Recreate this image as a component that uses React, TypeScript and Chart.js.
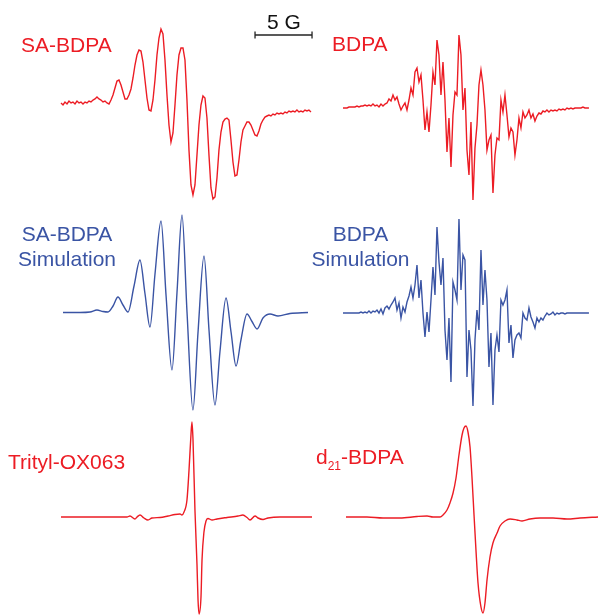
import React, { useEffect, useRef } from 'react';
import { Chart, registerables } from 'chart.js';

Chart.register(...registerables);

// ---------------- data ----------------
// Sampled spectra: amplitude (a.u.) every SWEEP_STEP_G gauss from the sweep start
const SWEEP_STEP_G = 0.1754;
const SCALE_BAR_G = 5;
const SCALE_BAR_START_G = 17.02;
const SCALE_BAR_LEVEL = 68;

const saBdpaExp = [
  0, -2, 1, -1, 2, 0, 1, -1, 2, 0,
  1, -1, 1, 0, 2, 1, 3, 4, 6, 4,
  3, 1, 2, 0, -1, 3, 8, 15, 22, 23,
  18, 11, 4, 4, 8, 14, 25, 38, 48, 53,
  52, 41, 23, 5, -7, -8, 3, 23, 48, 65,
  74, 69, 43, 8, -22, -39, -30, -2, 28, 48,
  55, 55, 43, 3, -47, -82, -92, -82, -52, -22,
  -2, 7, 5, -15, -52, -85, -96, -94, -75, -47,
  -29, -19, -16, -15, -17, -37, -59, -73, -72, -57,
  -39, -27, -23, -19, -19, -22, -27, -32, -33, -28,
  -21, -17, -14, -13, -12, -13, -11, -12, -10, -11,
  -10, -11, -9, -10, -8, -9, -8, -9, -7, -9,
  -8, -9, -7, -8, -7, -9,
];

const bdpaExp = [
  0, 0, 0, 1, 1, 1, 1, 2, 1, 2,
  2, 3, 2, 3, 2, 4, 2, 3, 1, 4,
  2, 4, 5, 9, 7, 13, 8, 11, 4, -2,
  2, 5, -2, 8, 20, 13, 36, 40, 26, 33,
  8, -22, -4, -24, 3, 36, 23, 68, 53, 13,
  46, 8, -44, -10, -59, -7, 16, 13, 73, 53,
  -2, 20, -42, -67, -14, -92, -40, -17, 23, 38,
  23, -2, -42, -32, -27, -85, -47, -30, -32, 8,
  -4, 13, -7, -29, -20, -24, -47, -32, -10, -20,
  -4, -10, -7, -2, -10, -6, -13, -8, -5, -6,
  -3, -4, -2, -4, -2, -3, -2, -3, -1, -2,
  -1, -2, 0, -1, 0, -1, 0, 0, 0, 0,
  1, 0, 0, 0,
];

const bdpaSim = [
  0, 0, 0, 0, 0, 0, 0, 0, 0, 1,
  0, 1, 0, 2, 0, 2, 1, 3, 0, 4,
  -1, 5, 7, 4, 8, 11, 15, 3, 10, -5,
  6, 1, 11, 17, 26, 15, 28, 48, 15, 33,
  0, -24, 1, -19, 13, 46, 18, 86, 51, 28,
  55, -17, -47, -5, -69, 31, 23, 13, 94, 23,
  58, 53, -64, -17, -37, -93, -27, 3, -17, 63,
  8, 43, 13, -54, -20, -92, -37, -22, -39, 13,
  8, 13, 23, -30, -12, -45, -27, -22, -20, -25,
  0, -5, -7, 5, -4, -9, -15, -5, -9, -5,
  -7, -3, 0, -2, -1, 1, -2, 0, -1, 0,
  0, -1, 0, 0, 0, 0, 0, 0, 0, 0,
  0, 0, 0, 0,
];

// Smooth spectra: field (G) and amplitude (a.u.)
const saBdpaSimField = [
  0, 1.49, 2.37, 2.98, 3.51, 3.95, 4.39, 4.82, 5.26, 5.70,
  6.23, 6.75, 7.19, 7.63, 8.07, 8.60, 9.04, 9.56, 10.0, 10.44,
  10.88, 11.40, 11.84, 12.37, 12.81, 13.33, 13.77, 14.30, 14.74, 15.18,
  15.61, 16.14, 16.58, 17.02, 17.54, 18.16, 18.86, 19.91, 21.49,
];
const saBdpaSimAmp = [
  0, 0, 0.5, 2.5, 1, 0.5, 6.5, 15.5, 7.5, 0.5,
  26.5, 52.5, 19, -14.5, 38.5, 91.5, 17, -57.5, 20, 97.5,
  0, -97.5, -20.5, 56.5, -18, -92.5, -39, 14.5, -19.5, -53.5,
  -27.5, -1.5, -9, -16.5, -5.5, -1.5, -3.5, -1, 0,
];

const tritylField = [
  0, 3.42, 5.79, 6.05, 6.49, 6.67, 6.93, 7.28, 7.63, 7.98,
  8.68, 9.39, 10.0, 10.44, 10.61, 10.79, 11.05, 11.23, 11.40, 11.49,
  11.58, 11.75, 11.93, 12.02, 12.11, 12.28, 12.37, 12.54, 12.72, 12.89,
  13.25, 13.68, 14.56, 15.53, 15.96, 16.32, 16.58, 17.02, 17.28, 17.72,
  18.16, 19.21, 22.02,
];
const tritylAmp = [
  0, 0, 0, 1, -2, 0, 2, -1, -3, -1,
  -0.5, 1, 2.5, 3, 2, 5, 17, 47, 82, 95,
  77, 7, -48, -83, -97, -80, -43, -15, -4, -1.5,
  -3, -2, -0.5, 1, 2, -0.5, -3, 1, -1, -2.5,
  -1, 0, 0,
];

const d21Field = [
  0, 1.84, 3.25, 4.74, 6.23, 7.11, 7.63, 8.25, 8.51, 8.86,
  9.12, 9.39, 9.65, 9.91, 10.18, 10.35, 10.53, 10.70, 10.88, 11.05,
  11.23, 11.40, 11.58, 11.84, 12.02, 12.19, 12.37, 12.63, 12.89, 13.25,
  13.51, 13.95, 14.39, 15.0, 15.44, 16.14, 17.02, 18.16, 19.39, 20.53,
  22.11,
];
const d21Amp = [
  0, 0, -1, -1, 0.5, 1, 0, 0, 2, 7,
  14, 24, 39, 62, 82, 89, 91, 85, 70, 40,
  2, -33, -66, -90, -96, -86, -63, -40, -26, -16,
  -9, -4, -2, -3, -4, -2, -1, -1, -2, -1,
  0,
];

// ---------------- styling / layout ----------------
const RED = '#ec1c24';
const BLUE = '#3a54a4';
const FONT = '"Liberation Sans", Arial, Helvetica, sans-serif';
const PX_PER_G = 11.4;
const PX_PER_AU = 1;

type Box = { left: number; top: number; width: number; height: number; originPx: number; baselinePx: number };

const sampled = (amps: number[]) => amps.map((y, i) => ({ x: i * SWEEP_STEP_G, y }));
const paired = (xs: number[], ys: number[]) => xs.map((x, i) => ({ x, y: ys[i] }));

type PanelProps = {
  box: Box;
  points: { x: number; y: number }[];
  color: string;
  smooth?: boolean;
  scaleBar?: boolean;
};

function SpectrumPanel({ box, points, color, smooth, scaleBar }: PanelProps) {
  const ref = useRef<HTMLCanvasElement | null>(null);
  useEffect(() => {
    if (!ref.current) return;
    const datasets: any[] = [
      {
        data: points,
        borderColor: color,
        borderWidth: 1.4,
        pointRadius: 0,
        fill: false,
        tension: 0,
        cubicInterpolationMode: smooth ? 'monotone' : 'default',
        clip: false,
      },
    ];
    if (scaleBar) {
      datasets.push({
        data: [
          { x: SCALE_BAR_START_G, y: SCALE_BAR_LEVEL },
          { x: SCALE_BAR_START_G + SCALE_BAR_G, y: SCALE_BAR_LEVEL },
        ],
        borderColor: '#222',
        borderWidth: 1.3,
        pointStyle: 'line',
        pointRadius: 3.6,
        pointRotation: 90,
        pointBorderWidth: 1.3,
        pointBorderColor: '#222',
        fill: false,
        clip: false,
      });
    }
    const chart = new Chart(ref.current, {
      type: 'line',
      data: { datasets },
      options: {
        animation: false,
        responsive: false,
        events: [],
        layout: { padding: 0, autoPadding: false },
        plugins: { legend: { display: false }, tooltip: { enabled: false }, title: { display: false } },
        scales: {
          x: {
            type: 'linear',
            display: false,
            min: (box.left - box.originPx) / PX_PER_G,
            max: (box.left + box.width - box.originPx) / PX_PER_G,
          },
          y: {
            type: 'linear',
            display: false,
            min: (box.baselinePx - (box.top + box.height)) / PX_PER_AU,
            max: (box.baselinePx - box.top) / PX_PER_AU,
          },
        },
      },
    });
    return () => chart.destroy();
  }, []);
  return (
    <canvas
      ref={ref}
      width={box.width}
      height={box.height}
      style={{ position: 'absolute', left: box.left, top: box.top, width: box.width, height: box.height }}
    />
  );
}

const labelBase: React.CSSProperties = {
  position: 'absolute',
  fontFamily: FONT,
  fontSize: 21,
  lineHeight: '21px',
  whiteSpace: 'nowrap',
};

export default function App() {
  return (
    <div style={{ position: 'absolute', left: 0, top: 0, width: 598, height: 615, overflow: 'hidden', background: '#fff' }}>
      <SpectrumPanel
        box={{ left: 50, top: 15, width: 270, height: 200, originPx: 61, baselinePx: 103 }}
        points={sampled(saBdpaExp)}
        color={RED}
        scaleBar
      />
      <SpectrumPanel
        box={{ left: 333, top: 15, width: 265, height: 200, originPx: 343, baselinePx: 108 }}
        points={sampled(bdpaExp)}
        color={RED}
      />
      <SpectrumPanel
        box={{ left: 50, top: 205, width: 270, height: 215, originPx: 63, baselinePx: 312.5 }}
        points={paired(saBdpaSimField, saBdpaSimAmp)}
        color={BLUE}
        smooth
      />
      <SpectrumPanel
        box={{ left: 333, top: 205, width: 265, height: 215, originPx: 343, baselinePx: 313 }}
        points={sampled(bdpaSim)}
        color={BLUE}
      />
      <SpectrumPanel
        box={{ left: 50, top: 410, width: 270, height: 205, originPx: 61, baselinePx: 517 }}
        points={paired(tritylField, tritylAmp)}
        color={RED}
        smooth
      />
      <SpectrumPanel
        box={{ left: 333, top: 410, width: 265, height: 205, originPx: 346, baselinePx: 517 }}
        points={paired(d21Field, d21Amp)}
        color={RED}
        smooth
      />

      <div style={{ ...labelBase, color: RED, left: 21, top: 34 }}>SA-BDPA</div>
      <div style={{ ...labelBase, color: '#111', left: 267, top: 10.5 }}>5 G</div>
      <div style={{ ...labelBase, color: RED, left: 332, top: 33 }}>BDPA</div>
      <div style={{ ...labelBase, color: BLUE, left: 7, top: 221, width: 120, textAlign: 'center', lineHeight: '25px' }}>
        SA-BDPA
        <br />
        Simulation
      </div>
      <div style={{ ...labelBase, color: BLUE, left: 300.5, top: 221, width: 120, textAlign: 'center', lineHeight: '25px' }}>
        BDPA
        <br />
        Simulation
      </div>
      <div style={{ ...labelBase, color: RED, left: 8, top: 450.5 }}>Trityl-OX063</div>
      <div style={{ ...labelBase, color: RED, left: 316, top: 445.5 }}>
        d<span style={{ fontSize: 12, position: 'relative', top: 6 }}>21</span>-BDPA
      </div>
    </div>
  );
}
